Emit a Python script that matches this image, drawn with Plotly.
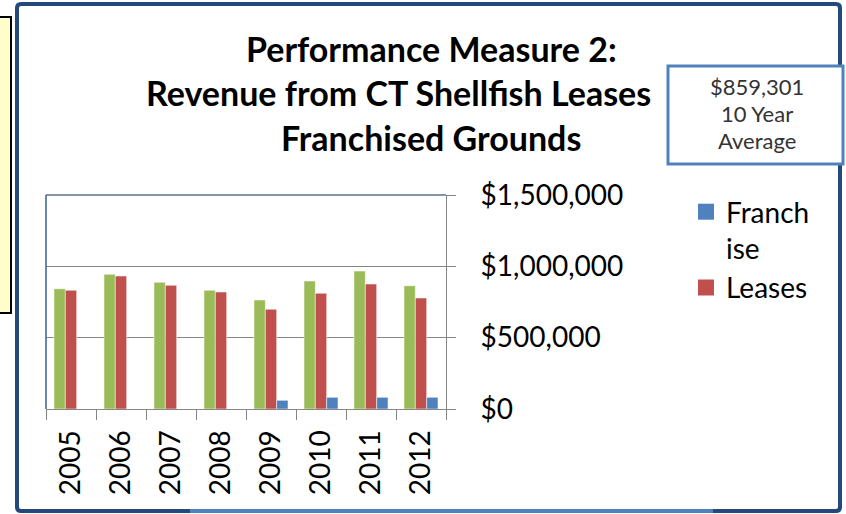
import plotly.graph_objects as go

years = ["2005", "2006", "2007", "2008", "2009", "2010", "2011", "2012"]
total = [843000, 944000, 888000, 832000, 764000, 897000, 967000, 864000]
leases = [832000, 932000, 867000, 820000, 699000, 811000, 876000, 778000]
franchise = [0, 0, 0, 0, 61000, 82000, 82000, 82000]

title_lines = ["Performance Measure 2:", "Revenue from CT Shellfish Leases", "Franchised Grounds"]
note_lines = ["$859,301", "10 Year", "Average"]
y_ticks = [0, 500000, 1000000, 1500000]
y_labels = ["$0", "$500,000", "$1,000,000", "$1,500,000"]

GREEN = "#9BBB59"
RED = "#C0504D"
BLUE = "#4F81BD"
FONT = "Lato"
EDGE = dict(color="rgba(255,255,255,0.5)", width=1)

fig = go.Figure()
fig.add_trace(go.Bar(x=years, y=total, name="Total", marker=dict(color=GREEN, line=EDGE), showlegend=False))
fig.add_trace(go.Bar(x=years, y=leases, name="Leases", marker=dict(color=RED, line=EDGE), showlegend=False,
                     legendgroup="leases"))
fig.add_trace(go.Bar(x=years, y=franchise, name="Franchise", marker=dict(color=BLUE, line=EDGE), showlegend=False,
                     legendgroup="franchise"))
# legend entries (larger square swatches, like the original)
fig.add_trace(go.Scatter(x=[None], y=[None], mode="markers", name="Franch<br>ise", legendgroup="franchise",
                         marker=dict(symbol="square", size=16, color=BLUE), legendrank=1))
fig.add_trace(go.Scatter(x=[None], y=[None], mode="markers", name="Leases", legendgroup="leases",
                         marker=dict(symbol="square", size=16, color=RED), legendrank=2))

W, H = 846, 514
L, R, T, B = 46, 446, 195, 409

def px(x):
    return (x - L) / (R - L)

def py(y):
    return (B - y) / (B - T)

shapes = []
shapes.append(dict(type="rect", xref="paper", yref="paper", x0=px(-6), x1=px(11), y0=py(17), y1=py(313),
                   fillcolor="#FFFFCC", line=dict(color="black", width=2), layer="below"))
shapes.append(dict(type="path", xref="paper", yref="paper",
                   path=f"M {px(21)},{py(4)} L {px(836)},{py(4)} Q {px(840)},{py(4)} {px(840)},{py(8)} "
                        f"L {px(840)},{py(507)} Q {px(840)},{py(511)} {px(836)},{py(511)} "
                        f"L {px(21)},{py(511)} Q {px(17)},{py(511)} {px(17)},{py(507)} "
                        f"L {px(17)},{py(8)} Q {px(17)},{py(4)} {px(21)},{py(4)} Z",
                   line=dict(color="#24487A", width=4), fillcolor="rgba(0,0,0,0)", layer="below"))
shapes.append(dict(type="line", xref="paper", yref="paper", x0=px(190), x1=px(713), y0=py(511), y1=py(511),
                   line=dict(color=BLUE, width=4)))
shapes.append(dict(type="line", xref="x domain", yref="y domain", x0=0, x1=0, y0=0, y1=1,
                   line=dict(color="#3B5F93", width=1.5)))
shapes.append(dict(type="line", xref="x domain", yref="y domain", x0=0, x1=1, y0=1, y1=1,
                   line=dict(color="#5A6F8E", width=1.5)))
shapes.append(dict(type="rect", xref="paper", yref="paper", x0=px(668), x1=px(843), y0=py(66), y1=py(164),
                   fillcolor="white", line=dict(color=BLUE, width=3)))

annotations = []
title_pos = [(431, 48), (398, 92), (431, 137)]
for line, (xc, yc) in zip(title_lines, title_pos):
    annotations.append(dict(text=f"<b>{line}</b>", xref="paper", yref="paper", x=px(xc), y=py(yc),
                            xanchor="center", yanchor="middle", showarrow=False,
                            font=dict(family=FONT, size=34, color="black")))
for i, line in enumerate(note_lines):
    annotations.append(dict(text=line, xref="paper", yref="paper", x=px(757), y=py(87 + 26.5 * i),
                            xanchor="center", yanchor="middle", showarrow=False,
                            font=dict(family=FONT, size=22, color="#333333")))

fig.update_layout(
    width=W, height=H,
    margin=dict(l=L, r=W - R, t=T, b=H - B, pad=0),
    paper_bgcolor="white", plot_bgcolor="white",
    barmode="group", bargap=0.32, bargroupgap=0,
    font=dict(family=FONT, color="black"),
    showlegend=True,
    legend=dict(x=px(686), y=py(187), xanchor="left", yanchor="top", valign="top",
                font=dict(family=FONT, size=28, color="black"), bgcolor="rgba(0,0,0,0)",
                traceorder="normal", tracegroupgap=0, itemwidth=30),
    shapes=shapes,
    annotations=annotations,
)
fig.update_xaxes(type="category", showline=True, linecolor="#868686", linewidth=1,
                 ticks="outside", tickson="boundaries", ticklen=10, tickcolor="#868686",
                 tickangle=-90, tickfont=dict(family=FONT, size=28, color="black"),
                 showgrid=False, ticklabelstandoff=9)
fig.update_yaxes(side="right", range=[0, 1500000], tickvals=y_ticks, ticktext=y_labels,
                 showline=True, linecolor="#868686", linewidth=1,
                 ticks="outside", ticklen=9, tickcolor="#868686",
                 showgrid=True, gridcolor="#868686", gridwidth=1, zeroline=False,
                 tickfont=dict(family=FONT, size=28, color="black"), ticklabelstandoff=19)

fig.write_html("out.html")
